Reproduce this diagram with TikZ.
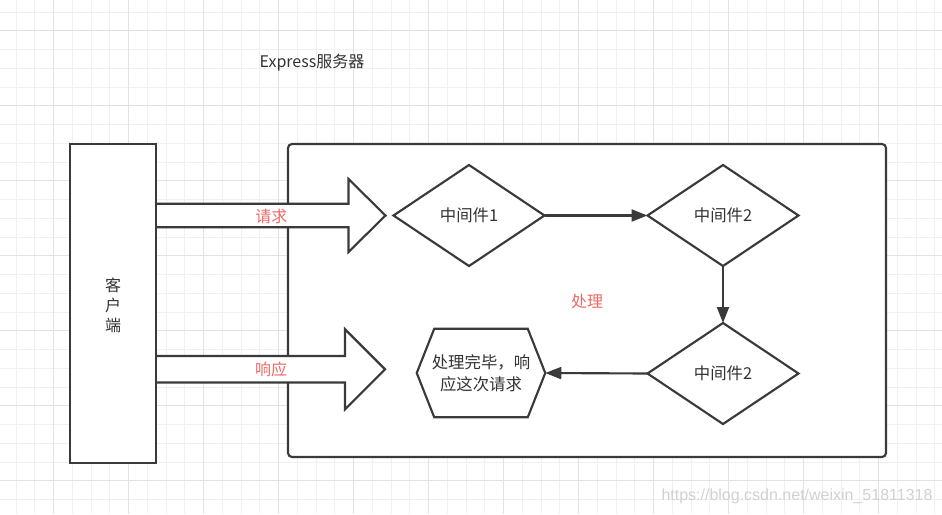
\documentclass[tikz,border=0pt]{standalone}
\usepackage{fontspec}
\setmainfont{Noto Sans CJK SC}
\newfontfamily\wmfont{Liberation Sans}
\usetikzlibrary{shapes.geometric,arrows.meta,calc}
\definecolor{ln}{HTML}{3A3A3A}
\definecolor{rd}{HTML}{EA6B66}
\definecolor{txt}{HTML}{333333}
\definecolor{gmin}{HTML}{F0F0F0}
\definecolor{gmaj}{HTML}{E2E2E2}
\pgfdeclarelayer{bg}
\pgfsetlayers{bg,main}
\tikzset{
  shapeline/.style={draw=ln, line width=1.6pt},
  boxnode/.style={shapeline, fill=white, inner sep=0pt, outer sep=0pt},
  dia/.style={boxnode, diamond, minimum width=113.25pt, minimum height=75.75pt, text=txt, font=\fontsize{12.3pt}{15pt}\selectfont},
  lbl/.style={text=txt, font=\fontsize{12pt}{15pt}\selectfont, inner sep=0pt},
  redlbl/.style={text=rd, font=\fontsize{12pt}{15pt}\selectfont, inner sep=0pt},
  fat/.style={shapeline, fill=white, line join=miter},
  conn/.style={draw=ln, line width=1.6pt, -{Triangle[length=12pt,width=9pt]}},
}
\begin{document}
\begin{tikzpicture}[x=0.75pt,y=-0.75pt]
\useasboundingbox (0,0) rectangle (942,514);
\begin{pgfonlayer}{bg}
\fill[white] (0,0) rectangle (942,514);
\foreach \k in {0,...,49} {
  \pgfmathsetmacro\xx{16+18.75*\k}
  \draw[gmin, line width=0.75pt] (\xx,0) -- (\xx,514);
}
\foreach \k in {0,...,26} {
  \pgfmathsetmacro\yy{12+18.75*\k}
  \draw[gmin, line width=0.75pt] (0,\yy) -- (942,\yy);
}
\foreach \k in {2,6,...,46} {
  \pgfmathsetmacro\xx{16+18.75*\k}
  \draw[gmaj, line width=0.75pt] (\xx,0) -- (\xx,514);
}
\foreach \k in {1,5,...,25} {
  \pgfmathsetmacro\yy{12+18.75*\k}
  \draw[gmaj, line width=0.75pt] (0,\yy) -- (942,\yy);
}
\node[boxnode, rounded corners=3pt, minimum width=448.5pt, minimum height=234.75pt] (server) at (587,300.5) {};
\end{pgfonlayer}

\node[lbl] (title) at (312,63) {Express服务器};
\node[redlbl] (proc) at (587,301) {处理};

\node[boxnode, minimum width=64.5pt, minimum height=239.25pt] (client) at (113,303.5) {};
\node[lbl, align=center] (clienttext) at (113,305) {客\\户\\端};

\node[dia] (m1) at (469,215.5) {中间件1};
\node[dia] (m2) at (723,215.5) {中间件2};
\node[dia] (m3) at (723,373.5) {中间件2};

\node[lbl, minimum width=96pt, minimum height=66pt, align=center, font=\fontsize{12pt}{16.5pt}\selectfont] (done) at (481,373) {处理完毕，响\\应这次请求};
\draw[shapeline, fill=white, line join=miter]
  (done.west) -- ($(done.north west)+(17.5,0)$) -- ($(done.north east)+(-17.5,0)$)
  -- (done.east) -- ($(done.south east)+(-17.5,0)$) -- ($(done.south west)+(17.5,0)$) -- cycle;
\node[lbl, align=center, font=\fontsize{12.3pt}{16.5pt}\selectfont] at (done.center) {处理完毕，响\\应这次请求};

% request arrow
\coordinate (rq0) at ($(client.east |- m1.west)+(1,0)$);
\coordinate (rq1) at ($(m1.west)+(-8,0)$);
\draw[fat] ($(rq0)+(0,-11.75)$) -- ($(rq1)+(-37,-11.75)$) -- ($(rq1)+(-37,-36.5)$) -- (rq1)
  -- ($(rq1)+(-37,36.5)$) -- ($(rq1)+(-37,11.75)$) -- ($(rq0)+(0,11.75)$);
\node[redlbl] (req) at ($(rq0)!0.5!(rq1)+(0,0.5)$) {请求};

% response arrow
\coordinate (rs1) at (385,369.25);
\coordinate (rs0) at ($(client.east |- rs1)+(1,0)$);
\draw[fat] ($(rs0)+(0,-13.25)$) -- ($(rs1)+(-40,-13.25)$) -- ($(rs1)+(-40,-40)$) -- (rs1)
  -- ($(rs1)+(-40,40)$) -- ($(rs1)+(-40,13.25)$) -- ($(rs0)+(0,13.25)$);
\node[redlbl] (resp) at ($(rs0)!0.5!(rs1)+(0,0.5)$) {响应};

\draw[conn] (m1.east) -- (m2.west);
\draw[conn] (m2.south) -- (m3.north);
\draw[conn] (m3.west) -- (done.east);

\node[text=black!18, font=\wmfont\fontsize{12pt}{14pt}\selectfont, inner sep=0pt] (wm) at (797,496) {https://blog.csdn.net/weixin\_51811318};
\end{tikzpicture}
\end{document}
